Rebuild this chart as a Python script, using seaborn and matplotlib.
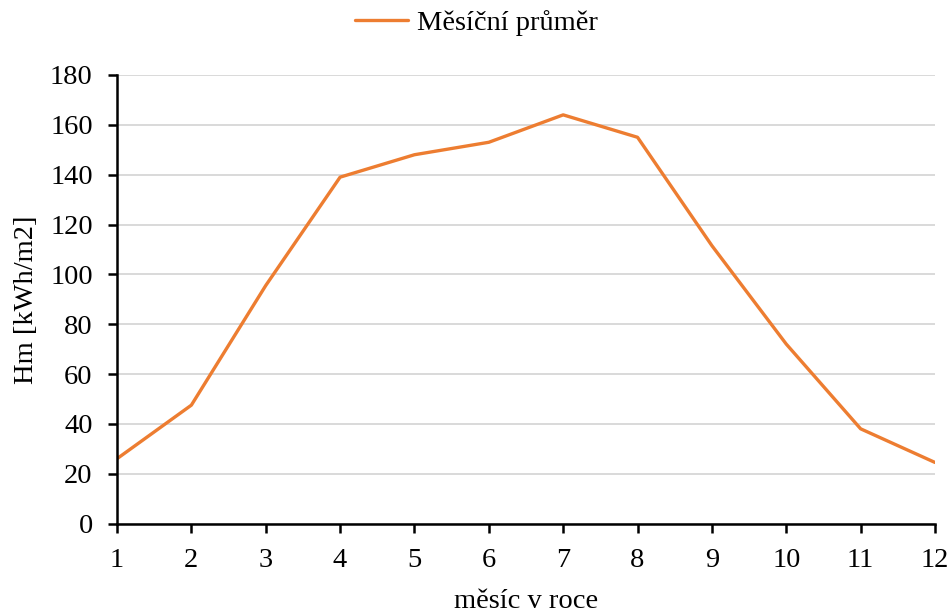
import matplotlib
matplotlib.use("Agg")
import matplotlib.pyplot as plt
import seaborn as sns
import pandas as pd
from matplotlib.lines import Line2D

months = [1, 2, 3, 4, 5, 6, 7, 8, 9, 10, 11, 12]
hm = [26, 47.5, 95.5, 139, 148, 153, 164, 155, 111.5, 72, 38, 24.5]
series_name = "Měsíční průměr"
x_label = "měsíc v roce"
y_label = "Hm [kWh/m2]"
y_ticks = [0, 20, 40, 60, 80, 100, 120, 140, 160, 180]

df = pd.DataFrame({"month": months, "hm": hm, "series": series_name})

sns.set_theme(style="white")
plt.rcParams["font.family"] = ["Liberation Serif", "DejaVu Serif"]

FS = 20.5
fig = plt.figure(figsize=(9.53, 6.13), dpi=100)
ax = fig.add_axes([117 / 953, 1 - 523.5 / 613, (935 - 117) / 953, (523.5 - 75) / 613])

sns.lineplot(data=df, x="month", y="hm", hue="series", palette=["#ED7D31"],
             linewidth=2.4, ax=ax, legend=False)

ax.set_xlim(1, 12)
ax.set_ylim(0, 180)
ax.set_xticks(months)
ax.set_yticks(y_ticks)
ax.yaxis.grid(True, color="#d9d9d9", linewidth=1.4)
ax.xaxis.grid(False)
ax.set_axisbelow(True)
for s in ["top", "right"]:
    ax.spines[s].set_visible(False)
for s in ["left", "bottom"]:
    ax.spines[s].set_color("black")
    ax.spines[s].set_linewidth(1.8)
ax.tick_params(axis="both", which="major", direction="out", length=6.5, width=1.8,
               color="black", labelsize=FS, labelcolor="black", pad=11,
               bottom=True, left=True)

ax.set_xlabel(x_label, fontsize=FS, color="black")
ax.set_ylabel(y_label, fontsize=FS, color="black")
ax.xaxis.set_label_coords(0.5, -0.147)
ax.yaxis.set_label_coords(-0.095, 0.5)

handle = Line2D([], [], color="#ED7D31", linewidth=2.4)
leg = fig.legend([handle], [series_name], loc="upper center", bbox_to_anchor=(0.5, 1.0),
                 frameon=False, fontsize=FS, handlelength=1.85, handletextpad=0.3,
                 borderaxespad=0.0, borderpad=0.34)
for t in leg.get_texts():
    t.set_color("black")

fig.savefig("out.png", dpi=100)
